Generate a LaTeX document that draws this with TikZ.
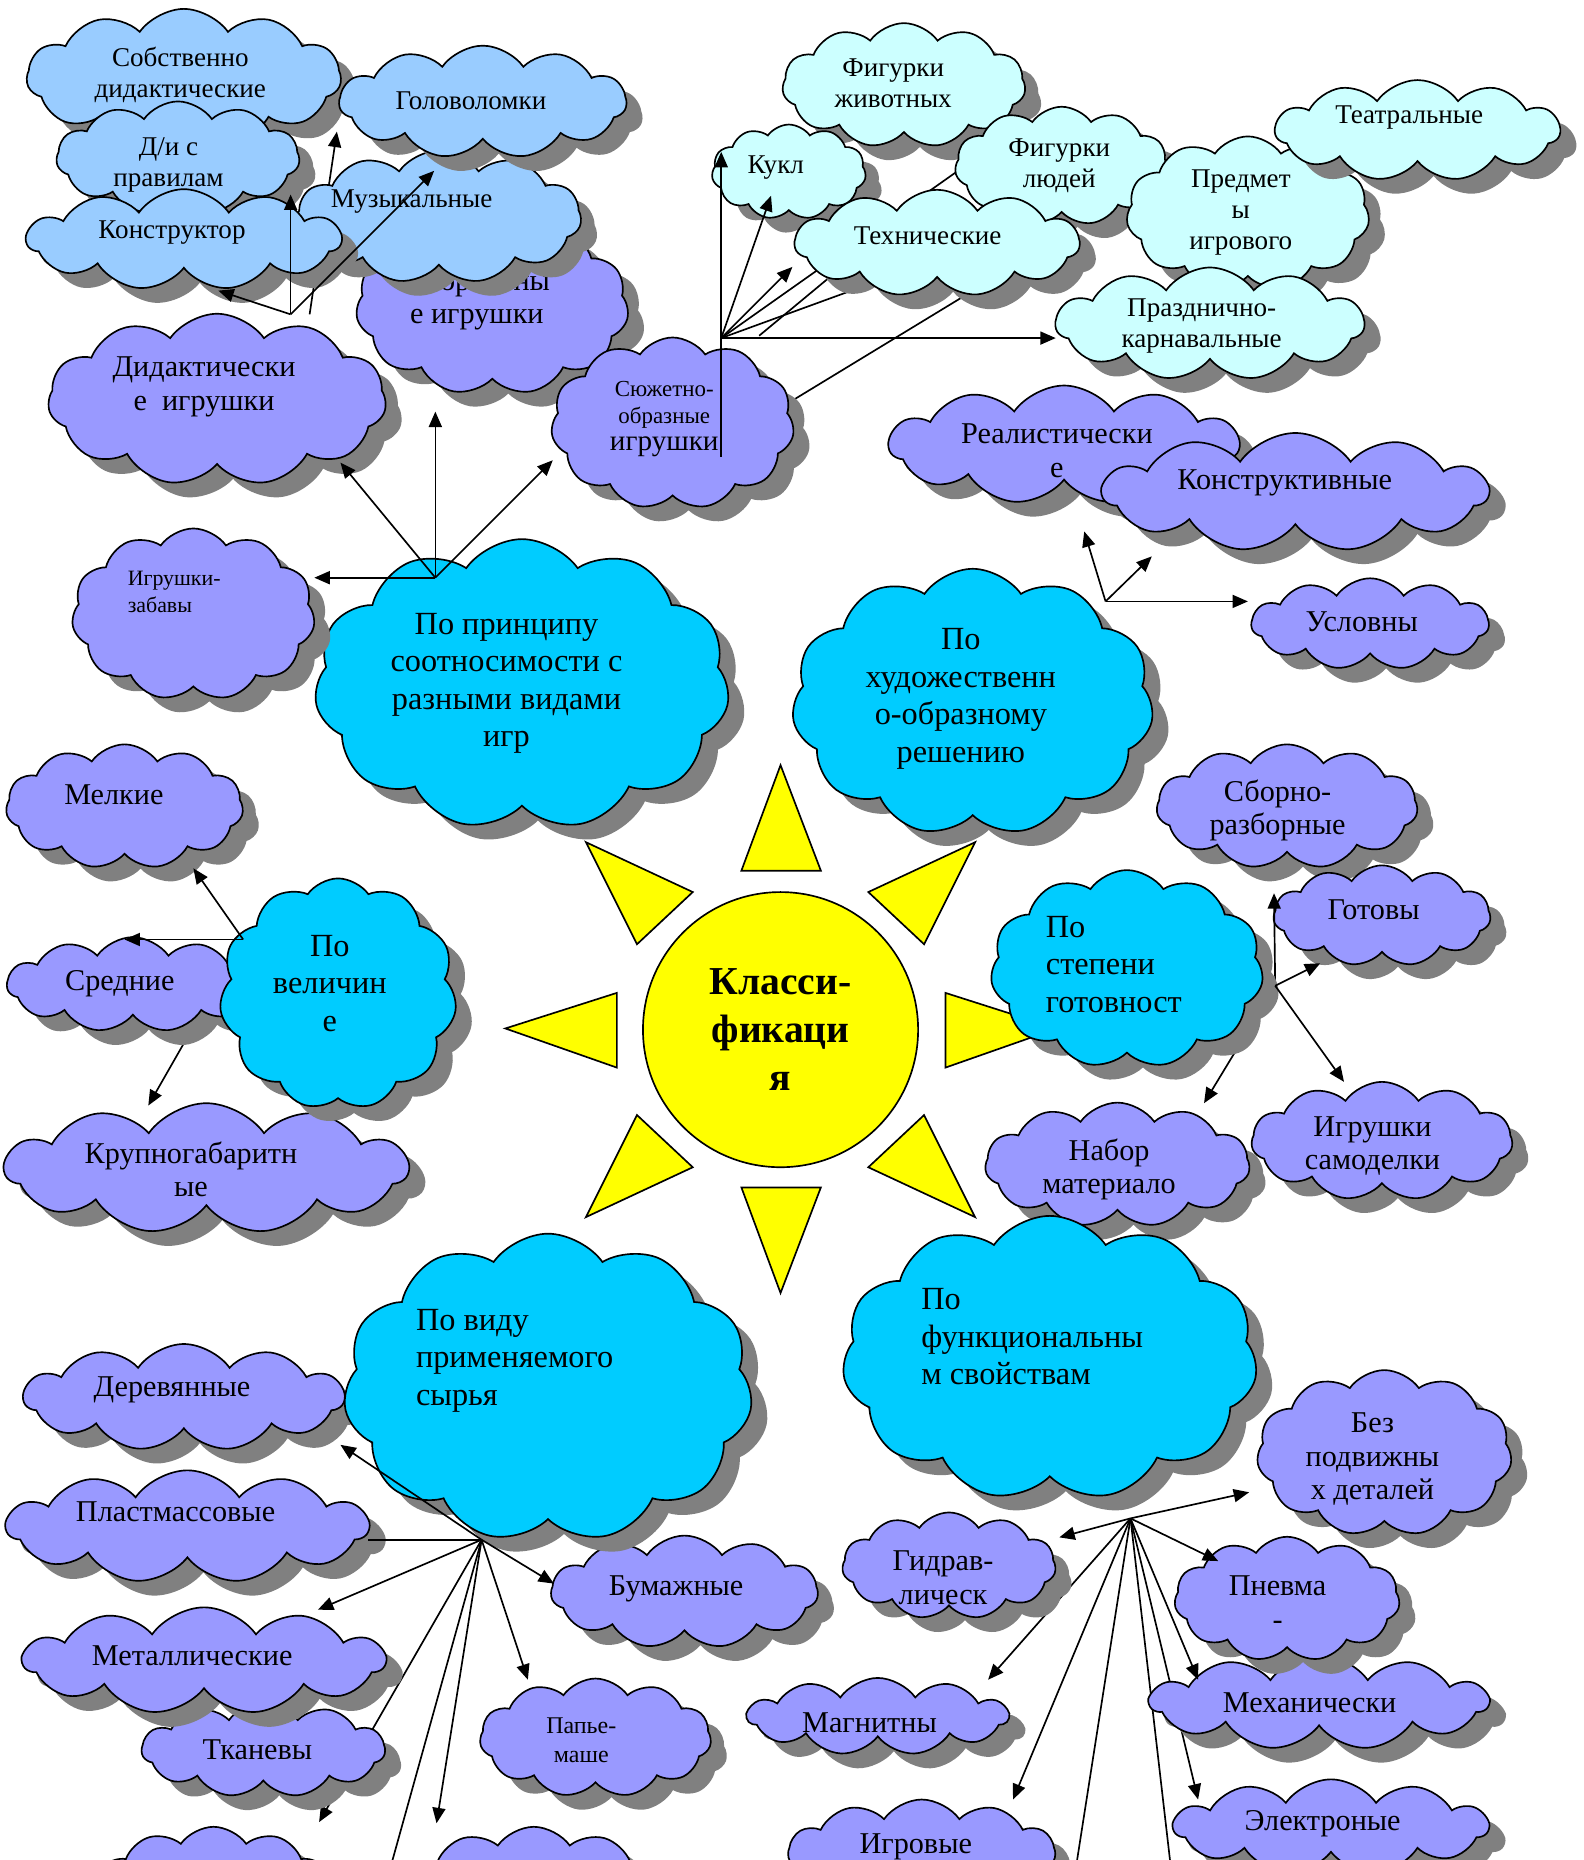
\documentclass[tikz,border=0pt]{standalone}
\usepackage{fontspec}
\setmainfont{Liberation Serif}
\usetikzlibrary{shapes.symbols, shadows, arrows.meta}
\definecolor{skyc}{HTML}{99CCFF}
\definecolor{palec}{HTML}{CCFFFF}
\definecolor{lilc}{HTML}{9999FF}
\definecolor{catc}{HTML}{00CCFF}
\definecolor{sunc}{HTML}{FFFF00}

\begin{document}
\begin{tikzpicture}[x=0.02cm, y=-0.02cm, thick, >={Triangle[length=2.6mm, width=2.2mm]},
    cl/.style = {cloud, cloud puffs=11, cloud puff arc=110, cloud ignores aspect, draw, inner sep=0pt,
        drop shadow={shadow xshift=0.27cm, shadow yshift=-0.25cm, fill=gray, opacity=1}},
    sz/.style 2 args = {minimum width=#1*0.02cm, minimum height=#2*0.02cm},
    sky/.style = {cl, fill=skyc}, pale/.style = {cl, fill=palec},
    lil/.style = {cl, fill=lilc}, cat/.style = {cl, fill=catc},
    ray/.style = {draw, fill=sunc},
    sm/.style = {inner sep=0pt, align=center, font=\fontsize{13}{15}\selectfont},
    md/.style = {inner sep=0pt, align=center, font=\fontsize{14.5}{16}\selectfont},
    bg/.style = {inner sep=0pt, align=center, font=\fontsize{15.5}{18}\selectfont},
    lft/.style = {bg, align=left, anchor=west}]

\useasboundingbox (0,0) rectangle (1335,1568);

% didactic toys
\coordinate (dHub) at (245,265);
\coordinate (dFoot) at (261,265);
\coordinate (tGolov) at (284,111);
\coordinate (tKonstr) at (184,245);
\coordinate (tDis) at (245,164);
\coordinate (tMuz) at (366,144);

\node[sky, sz={265}{115}] (sobst) at (155,65) {};
\node[sm] (sobst-t) at (152,63) {Собственно\\дидактические};
\draw[->] (dFoot) -- (tGolov);
\node[sky, sz={205}{95}] (dis) at (150,133) {};
\node[sm] (dis-t) at (142,139) {Д/и с\\правилам};
\node[lil, sz={230}{150}] (sport) at (415,258) {};
\node[md] (sport-t) at (402,253) {Спортивны\\е игрушки};
\node[sky, sz={240}{112}] (muz) at (370,183) {};
\node[sm] (muz-t) at (347,170) {Музыкальные};
\node[sky, sz={242}{95}] (golov) at (407,86) {};
\node[sm] (golov-t) at (397,85) {Головоломки};
\node[sky, sz={265}{85}] (konstr) at (155,202) {};
\node[sm] (konstr-t) at (145,196) {Конструктор};
\node[lil, sz={285}{145}] (didakt) at (183,337) {};
\node[md] (didakt-t) at (172,326) {Дидактически\\е\ \ игрушки};
\draw[->] (dHub) -- (tKonstr);
\draw[->] (dHub) -- (tDis);
\draw[->] (dHub) -- (tMuz);

% story toys
\coordinate (sHub) at (608,285);
\coordinate (sFoot) at (608,385);
\coordinate (sLow) at (600,379);
\coordinate (sMid) at (640,283);
\coordinate (tKuklTop) at (608,128);
\coordinate (tKukl) at (650,165);
\coordinate (tTehn) at (668,225);
\coordinate (tPrazd) at (890,285);
\coordinate (eFigl) at (809,143);
\coordinate (eTehnA) at (800,215);
\coordinate (eTehnB) at (740,200);
\coordinate (eTehnC) at (840,233);

\draw (sHub) -- (eFigl);
\draw (sHub) -- (eTehnA);
\draw (sMid) -- (eTehnB);
\draw (sLow) -- (eTehnC);

\node[pale, sz={205}{105}] (figzhiv) at (762,72) {};
\node[sm] (figzhiv-t) at (753,70) {Фигурки\\животных};
\node[pale, sz={130}{80}] (kukl) at (665,145) {};
\node[sm] (kukl-t) at (654,141) {Кукл};
\node[pale, sz={180}{100}] (figlyud) at (895,140) {};
\node[sm] (figlyud-t) at (893,140) {Фигурки\\людей};
\node[pale, sz={205}{130}] (predm) at (1052,180) {};
\node[sm] (predm-t) at (1046,179) {Предмет\\ы\\игрового};
\node[pale, sz={240}{85}] (teatr) at (1195,110) {};
\node[sm] (teatr-t) at (1188,99) {Театральные};
\node[pale, sz={260}{95}] (prazd) at (1020,273) {};
\node[sm] (prazd-t) at (1013,275) {Празднично-\\карнавальные};
\node[pale, sz={240}{90}] (tehn) at (790,205) {};
\node[sm] (tehn-t) at (782,199) {Технические};
\node[lil, sz={205}{145}] (syuzh) at (567,357) {};
\node[inner sep=0pt, align=center, font=\fontsize{11}{13}\selectfont] (syuzh-t) at (560,353)
    {Сюжетно-\\образные\\{\fontsize{14}{16}\selectfont игрушки}};
\draw[->] (sFoot) -- (tKuklTop);
\draw[->] (sHub) -- (tKukl);
\draw[->] (sHub) -- (tTehn);
\draw[->] (sHub) -- (tPrazd);

% sun
\draw[ray] (625,734) -- (692,734) -- (658,645) -- cycle;
\draw[ray] (625,1001) -- (692,1001) -- (658,1090) -- cycle;
\draw[ray] (520,837) -- (520,900) -- (426,867) -- cycle;
\draw[ray] (797,837) -- (797,900) -- (891,867) -- cycle;
\draw[ray] (494,710) -- (584,752) -- (537,796) -- cycle;
\draw[ray] (822,710) -- (732,752) -- (779,796) -- cycle;
\draw[ray] (494,1026) -- (584,984) -- (537,940) -- cycle;
\draw[ray] (822,1026) -- (732,984) -- (779,940) -- cycle;
\node[circle, draw, fill=sunc, minimum size=4.64cm, inner sep=0pt, align=center,
    font=\bfseries\fontsize{19}{23}\selectfont] (sun) at (658,868) {Класси-\\фикаци\\я};

% artistic solution
\coordinate (hHub) at (932,507);
\coordinate (tReal) at (914,448);
\coordinate (tKonstrukt) at (971,469);
\coordinate (tUslov) at (1052,507);

\node[lil, sz={295}{100}] (real) at (897,375) {};
\node[md] (real-t) at (891,380) {Реалистически\\е};
\node[lil, sz={325}{100}] (konstrukt) at (1092,415) {};
\node[md] (konstrukt-t) at (1083,407) {Конструктивные};
\node[lil, sz={200}{77}] (uslov) at (1155,526) {};
\node[md] (uslov-t) at (1148,524) {Условны};
\node[cat, sz={305}{225}] (hudozh) at (820,592) {};
\node[bg] (hudozh-t) at (810,589) {По\\художественн\\о-образному\\решению};
\draw[->] (hHub) -- (tReal);
\draw[->] (hHub) -- (tKonstrukt);
\draw[->] (hHub) -- (tUslov);

% kinds of play
\coordinate (pHub) at (367,487);
\coordinate (tZabavy) at (265,487);
\coordinate (tDidakt) at (287,390);
\coordinate (tSport) at (367,347);
\coordinate (tSyuzh) at (466,388);

\node[cat, sz={350}{245}] (princip) at (440,577) {};
\node[bg] (princip-t) at (427,576) {По принципу\\соотносимости с\\разными видами\\игр};
\node[lil, sz={205}{145}] (zabavy) at (163,518) {};
\node[inner sep=0pt, align=left, anchor=west, font=\fontsize{10.5}{12.5}\selectfont] (zabavy-t)
    at (107,499) {Игрушки-\\забавы};
\draw[->] (pHub) -- (tZabavy);
\draw[->] (pHub) -- (tDidakt);
\draw[->] (pHub) -- (tSport);
\draw[->] (pHub) -- (tSyuzh);

% size
\coordinate (vHub) at (205,792);
\coordinate (tMelk) at (163,732);
\coordinate (tSred) at (105,792);
\coordinate (tKrupn) at (125,932);

\node[lil, sz={340}{110}] (krupn) at (174,985) {};
\node[md] (krupn-t) at (161,986) {Крупногабаритн\\ые};
\draw[->] (vHub) -- (tKrupn);
\node[lil, sz={212}{80}] (sred) at (112,830) {};
\node[md] (sred-t) at (101,829) {Средние};
\node[lil, sz={200}{105}] (melk) at (105,680) {};
\node[md] (melk-t) at (96,670) {Мелкие};
\node[cat, sz={200}{195}] (velich) at (285,838) {};
\node[bg] (velich-t) at (278,829) {По\\величин\\е};
\draw[->] (vHub) -- (tMelk);
\draw[->] (vHub) -- (tSred);

% readiness
\coordinate (tHub) at (1075,831);
\coordinate (tSborno) at (1074,753);
\coordinate (tGotov) at (1113,812);
\coordinate (tSamod) at (1133,912);
\coordinate (tNabor) at (1015,930);

\node[lil, sz={220}{105}] (sborno) at (1085,680) {};
\node[md] (sborno-t) at (1077,683) {Сборно-\\разборные};
\node[lil, sz={183}{85}] (gotov) at (1165,772) {};
\node[md] (gotov-t) at (1158,767) {Готовы};
\node[lil, sz={223}{105}] (nabor) at (942,982) {};
\node[md] (nabor-t) at (935,986) {Набор\\материало};
\node[lil, sz={220}{100}] (samod) at (1165,962) {};
\node[md] (samod-t) at (1157,966) {Игрушки\\самоделки};
\draw[->] (tHub) -- (tSborno);
\draw[->] (tHub) -- (tNabor);
\node[cat, sz={230}{167}] (stepen) at (950,817) {};
\node[lft] (stepen-t) at (881,813) {По\\степени\\готовност};
\draw[->] (tHub) -- (tGotov);
\draw[->] (tHub) -- (tSamod);

% raw material
\coordinate (wHub) at (406,1298);
\coordinate (tDerev) at (287,1218);
\coordinate (tBumazh) at (467,1335);
\coordinate (tMetal) at (268,1357);
\coordinate (tBotA) at (269,1536);
\coordinate (tPapie) at (445,1416);
\coordinate (tBotB) at (368,1537);
\coordinate (ePlast) at (310,1298);
\coordinate (eOffA) at (322,1600);

\node[lil, sz={200}{110}] (botA) at (180,1595) {};
\node[lil, sz={220}{120}] (botB) at (450,1600) {};
\draw[->] (wHub) -- (tBotA);
\draw (wHub) -- (eOffA);
\node[lil, sz={205}{80}] (tkan) at (222,1475) {};
\node[md] (tkan-t) at (217,1475) {Тканевы};
\node[lil, sz={305}{90}] (metal) at (172,1400) {};
\node[md] (metal-t) at (162,1396) {Металлические};
\node[lil, sz={270}{90}] (derev) at (155,1178) {};
\node[md] (derev-t) at (145,1172) {Деревянные};
\node[lil, sz={305}{95}] (plast) at (158,1287) {};
\node[md] (plast-t) at (148,1274) {Пластмассовые};
\node[lil, sz={225}{95}] (bumazh) at (577,1342) {};
\node[md] (bumazh-t) at (570,1339) {Бумажные};
\node[lil, sz={195}{100}] (papie) at (502,1465) {};
\node[inner sep=0pt, align=center, font=\fontsize{11.5}{14}\selectfont] (papie-t) at (490,1467) {Папье-\\маше};
\node[cat, sz={345}{260}] (vid) at (462,1170) {};
\node[lft] (vid-t) at (350,1147) {По виду\\применяемого\\сырья};
\draw[->] (wHub) -- (tDerev);
\draw[->] (wHub) -- (tBumazh);
\draw[->] (wHub) -- (tMetal);
\draw[->] (wHub) -- (tPapie);
\draw[->] (wHub) -- (tBotB);
\draw (wHub) -- (ePlast);

% functional properties
\coordinate (fHub) at (953,1280);
\coordinate (tBez) at (1053,1258);
\coordinate (tGidrav) at (893,1296);
\coordinate (tPnevm) at (1027,1316);
\coordinate (tMagn) at (833,1416);
\coordinate (tMehan) at (1010,1416);
\coordinate (tIgrov) at (854,1517);
\coordinate (tElektr) at (1010,1517);
\coordinate (eOffB) at (903,1600);
\coordinate (eOffC) at (990,1600);

\node[lil, sz={220}{65}] (magn) at (740,1447) {};
\node[md] (magn-t) at (733,1452) {Магнитны};
\node[lil, sz={265}{80}] (elektr) at (1122,1540) {};
\node[md] (elektr-t) at (1115,1537) {Электроные};
\node[lil, sz={225}{90}] (igrov) at (777,1562) {};
\node[md] (igrov-t) at (772,1557) {Игровые};
\draw[->] (fHub) -- (tMagn);
\draw[->] (fHub) -- (tElektr);
\draw (fHub) -- (eOffB);
\draw (fHub) -- (eOffC);
\node[lil, sz={180}{90}] (gidrav) at (800,1320) {};
\node[md] (gidrav-t) at (795,1330) {Гидрав-\\лическ};
\node[lil, sz={285}{80}] (mehan) at (1112,1435) {};
\node[md] (mehan-t) at (1104,1435) {Механически};
\node[lil, sz={215}{140}] (bez) at (1167,1225) {};
\node[md] (bez-t) at (1157,1230) {Без\\подвижны\\х деталей};
\node[lil, sz={190}{105}] (pnevm) at (1085,1348) {};
\node[md] (pnevm-t) at (1077,1351) {Пневма\\-};
\node[cat, sz={350}{240}] (funk) at (885,1145) {};
\node[lft] (funk-t) at (776,1127) {По\\функциональны\\м свойствам};
\draw[->] (fHub) -- (tBez);
\draw[->] (fHub) -- (tGidrav);
\draw[->] (fHub) -- (tPnevm);
\draw[->] (fHub) -- (tMehan);
\draw[->] (fHub) -- (tIgrov);
\end{tikzpicture}
\end{document}
